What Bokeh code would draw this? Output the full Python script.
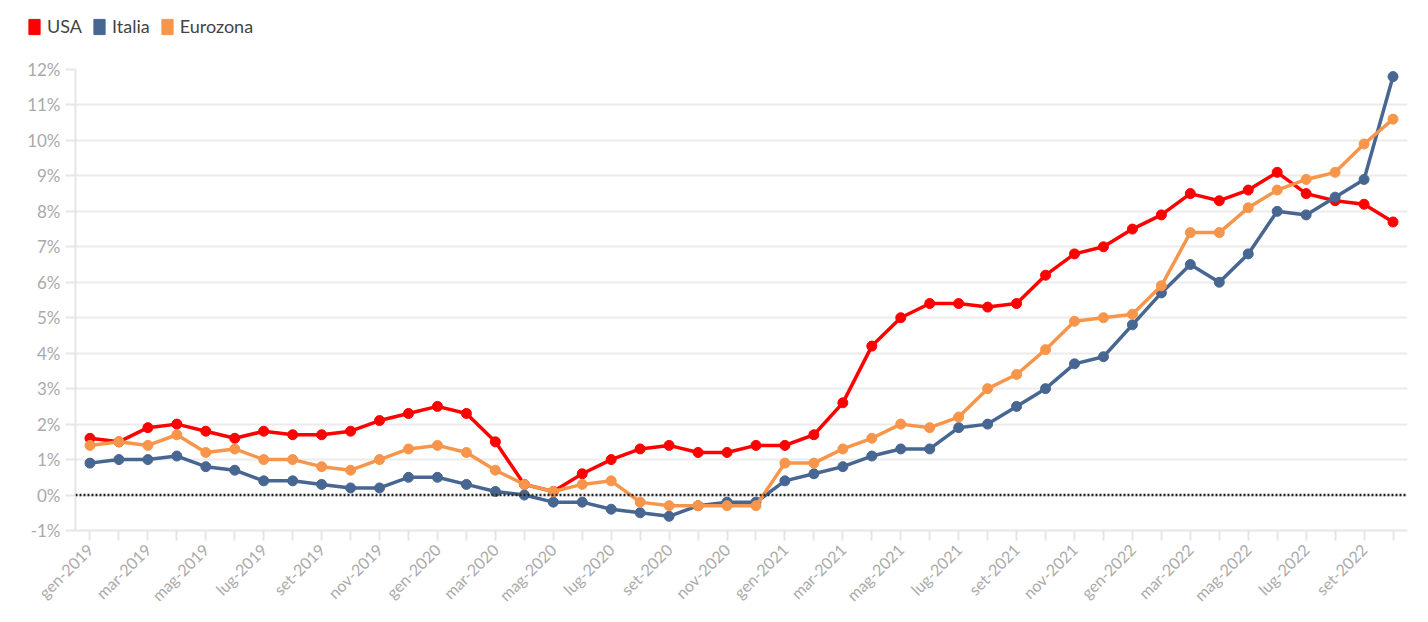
import math
from bokeh.plotting import figure
from bokeh.layouts import column, row
from bokeh.models import Range1d, FixedTicker, Legend, LegendItem, Span, ColumnDataSource
from bokeh.embed import file_html
from bokeh.resources import INLINE

months = ["gen", "feb", "mar", "apr", "mag", "giu", "lug", "ago", "set", "ott", "nov", "dic"]
categories = [f"{m}-{y}" for y in (2019, 2020, 2021, 2022) for m in months][:46]

usa = [1.6, 1.5, 1.9, 2.0, 1.8, 1.6, 1.8, 1.7, 1.7, 1.8, 2.1, 2.3,
       2.5, 2.3, 1.5, 0.3, 0.1, 0.6, 1.0, 1.3, 1.4, 1.2, 1.2, 1.4,
       1.4, 1.7, 2.6, 4.2, 5.0, 5.4, 5.4, 5.3, 5.4, 6.2, 6.8, 7.0,
       7.5, 7.9, 8.5, 8.3, 8.6, 9.1, 8.5, 8.3, 8.2, 7.7]
italia = [0.9, 1.0, 1.0, 1.1, 0.8, 0.7, 0.4, 0.4, 0.3, 0.2, 0.2, 0.5,
          0.5, 0.3, 0.1, 0.0, -0.2, -0.2, -0.4, -0.5, -0.6, -0.3, -0.2, -0.2,
          0.4, 0.6, 0.8, 1.1, 1.3, 1.3, 1.9, 2.0, 2.5, 3.0, 3.7, 3.9,
          4.8, 5.7, 6.5, 6.0, 6.8, 8.0, 7.9, 8.4, 8.9, 11.8]
eurozona = [1.4, 1.5, 1.4, 1.7, 1.2, 1.3, 1.0, 1.0, 0.8, 0.7, 1.0, 1.3,
            1.4, 1.2, 0.7, 0.3, 0.1, 0.3, 0.4, -0.2, -0.3, -0.3, -0.3, -0.3,
            0.9, 0.9, 1.3, 1.6, 2.0, 1.9, 2.2, 3.0, 3.4, 4.1, 4.9, 5.0,
            5.1, 5.9, 7.4, 7.4, 8.1, 8.6, 8.9, 9.1, 9.9, 10.6]
y_ticks = list(range(-1, 13))

series = [("USA", usa, "#ff0000"), ("Italia", italia, "#476691"), ("Eurozona", eurozona, "#f7964b")]

FONT = "Lato"
x = list(range(len(categories)))
NAN = float("nan")

# ---- legend strip ----
leg_fig = figure(width=1420, height=50, output_backend="svg", toolbar_location=None,
                 x_range=Range1d(0, 1), y_range=Range1d(0, 1),
                 min_border_left=0, min_border_right=0, min_border_top=0, min_border_bottom=0)
leg_fig.axis.visible = False
leg_fig.grid.visible = False
leg_fig.outline_line_color = None

# ---- main chart ----
p = figure(width=1420, height=564, output_backend="svg", toolbar_location=None,
           x_range=Range1d(-0.5, len(categories) - 0.5), y_range=Range1d(-1, 12),
           min_border_left=75, min_border_right=13, min_border_top=19, min_border_bottom=84)
p.outline_line_color = None

p.xaxis.ticker = FixedTicker(ticks=x)
p.xaxis.major_label_overrides = {i: (categories[i] if i % 2 == 0 else "") for i in x}
p.xaxis.major_label_orientation = math.pi / 4
p.xaxis.axis_line_color = "#e6e6e6"
p.xaxis.axis_line_width = 2
p.xaxis.major_tick_line_color = "#e6e6e6"
p.xaxis.major_tick_line_width = 2
p.xaxis.major_tick_out = 10
p.xaxis.major_tick_in = 0
p.xaxis.minor_tick_line_color = None
p.xaxis.major_label_text_color = "#aaaaaa"
p.xaxis.major_label_text_font = FONT
p.xaxis.major_label_text_font_size = "16px"
p.xaxis.major_label_standoff = 6

p.yaxis.ticker = FixedTicker(ticks=y_ticks)
p.yaxis.major_label_overrides = {t: f"{t}%" for t in y_ticks}
p.yaxis.axis_line_color = "#e6e6e6"
p.yaxis.axis_line_width = 2
p.yaxis.major_tick_line_color = "#e6e6e6"
p.yaxis.major_tick_line_width = 2
p.yaxis.major_tick_out = 10
p.yaxis.major_tick_in = 0
p.yaxis.minor_tick_line_color = None
p.yaxis.major_label_text_color = "#aaaaaa"
p.yaxis.major_label_text_font = FONT
p.yaxis.major_label_text_font_size = "17px"
p.yaxis.major_label_standoff = 5

p.xgrid.grid_line_color = None
p.ygrid.ticker = FixedTicker(ticks=y_ticks)
p.ygrid.grid_line_color = "#ebebeb"
p.ygrid.grid_line_width = 2

p.add_layout(Span(location=0, dimension="width", line_color="#222222",
                  line_width=2.5, line_dash="2 2"))

items = []
for name, vals, color in series:
    src = ColumnDataSource(dict(x=x, y=vals))
    p.line("x", "y", source=src, line_color=color, line_width=3.5)
    p.scatter("x", "y", source=src, size=10, fill_color=color, line_color=color)
    sw = leg_fig.quad(left=[NAN], right=[NAN], top=[NAN], bottom=[NAN],
                      fill_color=color, line_color=color)
    items.append(LegendItem(label=name, renderers=[sw]))

legend = Legend(items=items, orientation="horizontal", location=(27, 13),
                glyph_width=14, glyph_height=19, label_height=19,
                label_standoff=6, spacing=10, padding=0, margin=0,
                border_line_color=None, background_fill_alpha=0,
                label_text_font=FONT, label_text_font_size="18px",
                label_text_color="#444444")
leg_fig.add_layout(legend, "center")

layout = column(row(leg_fig), p, spacing=0)
open("out.html", "w").write(file_html(layout, INLINE))
